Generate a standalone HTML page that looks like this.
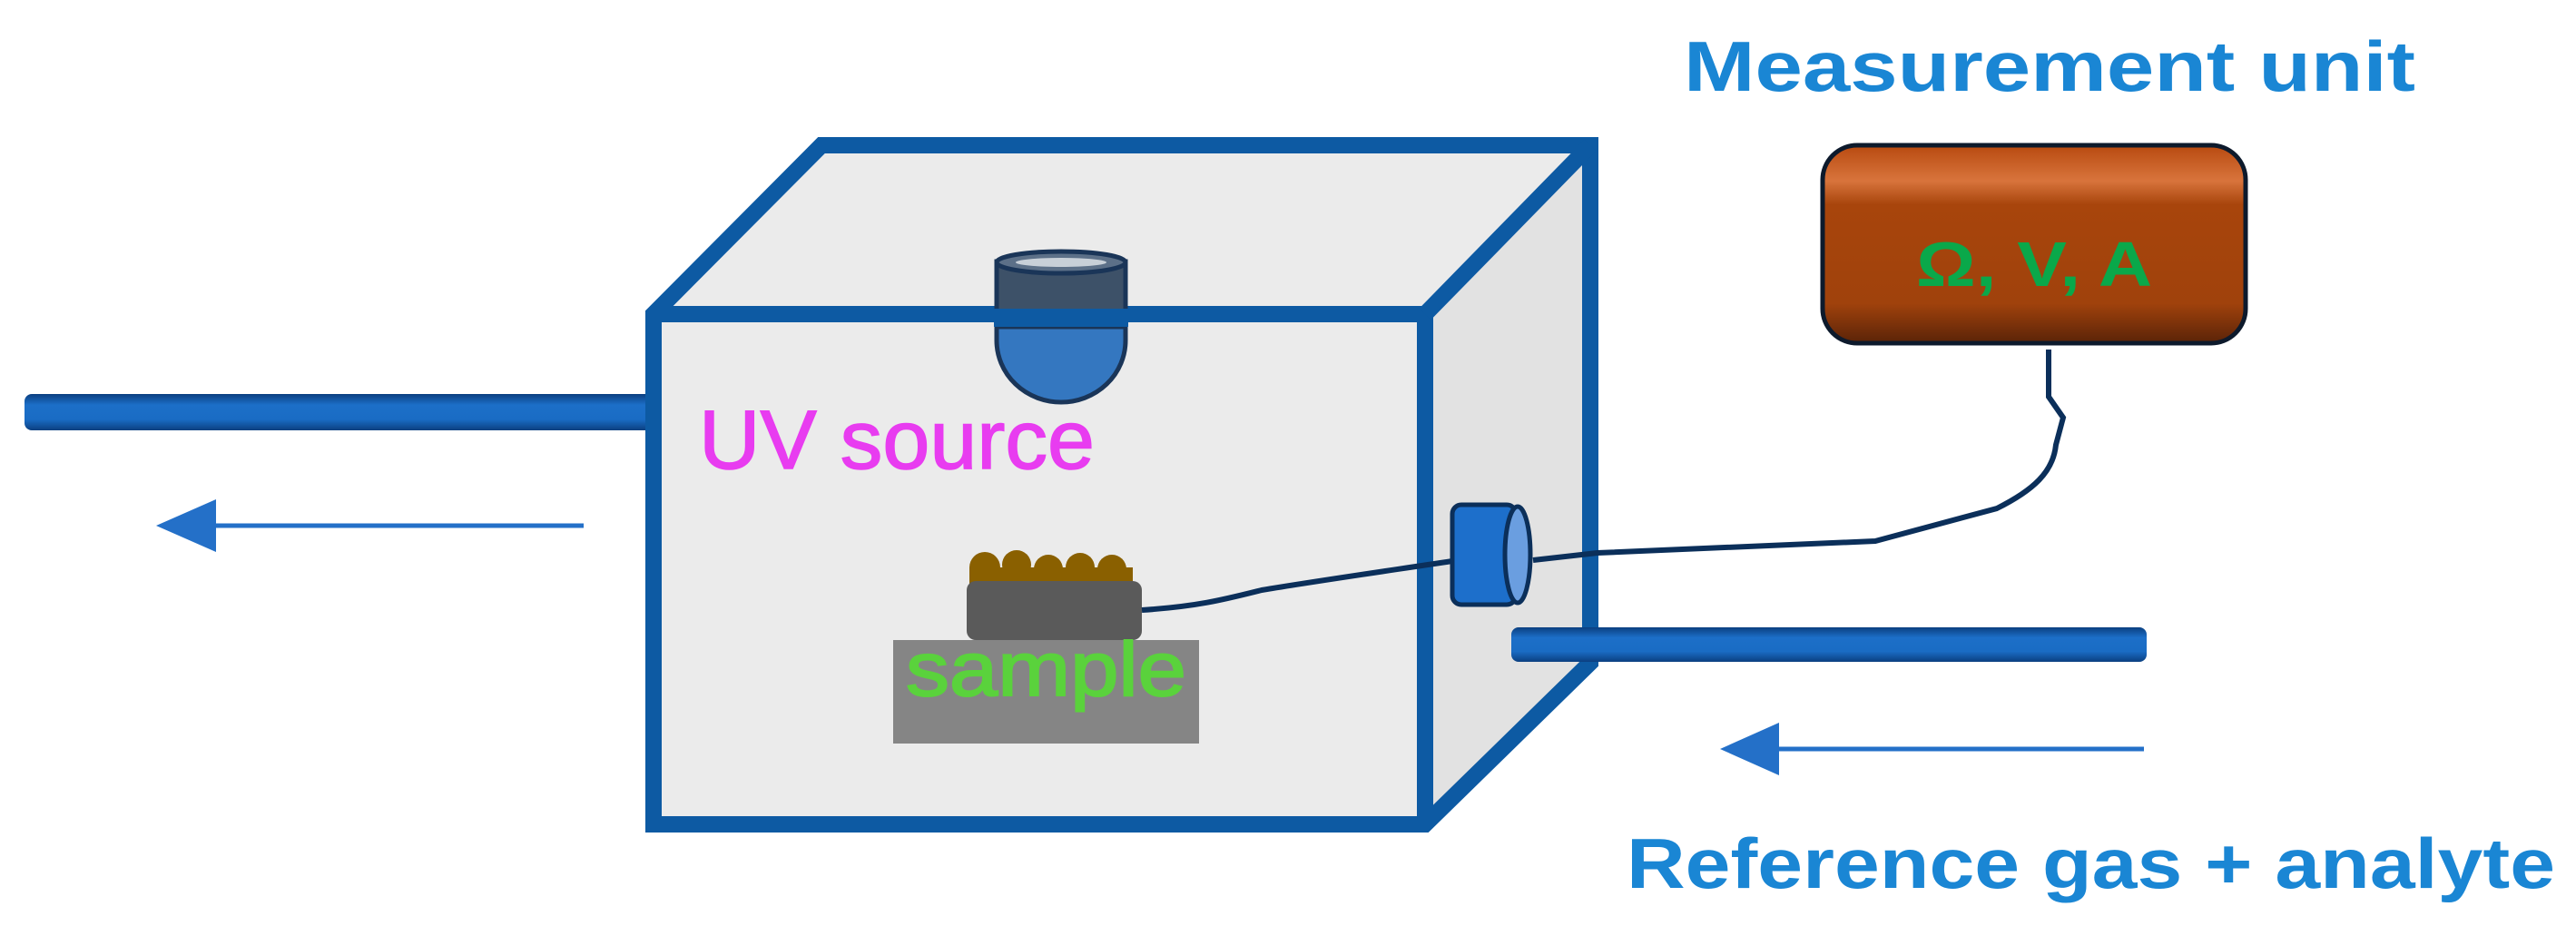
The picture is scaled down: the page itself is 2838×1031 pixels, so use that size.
<!DOCTYPE html>
<html><head><meta charset="utf-8"><style>
html,body{margin:0;padding:0;background:#fff;}
svg{display:block;}
</style></head><body>
<svg width="2838" height="1031" viewBox="0 0 2838 1031" xmlns="http://www.w3.org/2000/svg">
<defs>
<linearGradient id="box" x1="0" y1="0" x2="0" y2="1">
<stop offset="0" stop-color="#b84a10"/><stop offset="0.18" stop-color="#d8743c"/><stop offset="0.3" stop-color="#a8450c"/><stop offset="0.8" stop-color="#a0420c"/><stop offset="1" stop-color="#5a2308"/>
</linearGradient>
<linearGradient id="tube" x1="0" y1="0" x2="0" y2="1">
<stop offset="0" stop-color="#0b3f80"/><stop offset="0.3" stop-color="#1c6fc8"/><stop offset="0.7" stop-color="#1a6cc4"/><stop offset="1" stop-color="#0b3f80"/>
</linearGradient>
</defs>
<rect x="27" y="434" width="700" height="40" rx="8" fill="url(#tube)"/>
<polygon points="720,346 905,160 1752,160 1752,730 1570,908 720,908" fill="#ebebeb"/>
<polygon points="1570,346 1752,160 1752,730 1570,908" fill="#e2e2e2"/>
<g fill="none" stroke="#0d5aa3" stroke-width="18" stroke-linejoin="miter">
<polygon points="720,346 905,160 1752,160 1752,730 1570,908 720,908"/>
<polyline points="720,346 1570,346 1570,908"/>
<line x1="1570" y1="346" x2="1752" y2="160"/>
</g>
<!-- UV lamp -->
<path d="M1098,360 L1098,375 A71,68 0 0 0 1240,375 L1240,360 Z" fill="#3477c0" stroke="#1a3558" stroke-width="5"/>
<rect x="1098" y="288" width="142" height="60" fill="#3d5168" stroke="#1a3558" stroke-width="5"/>
<ellipse cx="1169" cy="289" rx="71" ry="12" fill="#5c7088" stroke="#1a3558" stroke-width="5"/>
<ellipse cx="1169" cy="289" rx="50" ry="5" fill="#c8d0d8"/>
<rect x="1095" y="340" width="148" height="20" fill="#0d5aa3"/>
<text x="770" y="516" font-family="Liberation Sans, sans-serif" font-size="92" fill="#e83cf0" stroke="#e83cf0" stroke-width="1.5" textLength="436" lengthAdjust="spacingAndGlyphs">UV source</text>
<rect x="984" y="705" width="337" height="114" fill="#858585"/>
<g fill="#8a6000">
<circle cx="1085" cy="625" r="17"/><circle cx="1120" cy="622" r="16"/><circle cx="1155" cy="627" r="16"/><circle cx="1190" cy="625" r="16"/><circle cx="1225" cy="627" r="16"/>
<rect x="1068" y="625" width="180" height="18"/>
</g>
<rect x="1065" y="640" width="193" height="65" rx="10" fill="#5a5a5a"/>
<text x="998" y="766" font-family="Liberation Sans, sans-serif" font-size="84" fill="#5ad23c" stroke="#5ad23c" stroke-width="2" textLength="309" lengthAdjust="spacingAndGlyphs">sample</text>
<path d="M1258,672 C1320,668 1350,660 1390,650 C1450,640 1520,630 1600,618" fill="none" stroke="#0b2f5a" stroke-width="6"/>
<path d="M1689,617 L1760,609 L2066,596 L2200,560 C2240,540 2262,520 2265,490 L2273,460 L2257,437 L2257,385" fill="none" stroke="#0b2f5a" stroke-width="6"/>
<rect x="1600" y="556" width="70" height="110" rx="10" fill="#1d6fcb" stroke="#0b2f5a" stroke-width="5"/>
<ellipse cx="1672" cy="611" rx="14" ry="53" fill="#6a9ee0" stroke="#0b2f5a" stroke-width="5"/>
<rect x="1665" y="691" width="700" height="38" rx="8" fill="url(#tube)"/>
<line x1="232" y1="579" x2="643" y2="579" stroke="#2470c8" stroke-width="5"/>
<polygon points="172,579 238,550 238,608" fill="#2470c8"/>
<line x1="1955" y1="825" x2="2362" y2="825" stroke="#2470c8" stroke-width="5"/>
<polygon points="1895,825 1960,796 1960,854" fill="#2470c8"/>
<rect x="2008" y="160" width="466" height="218" rx="38" fill="url(#box)" stroke="#0d1a2c" stroke-width="5"/>
<text x="2241" y="315" text-anchor="middle" font-family="Liberation Sans, sans-serif" font-weight="bold" font-size="70" fill="#0aa84a" textLength="260" lengthAdjust="spacingAndGlyphs">Ω, V, A</text>
<text x="1855" y="100" font-family="Liberation Sans, sans-serif" font-weight="bold" font-size="78" fill="#1a86d4" textLength="806" lengthAdjust="spacingAndGlyphs">Measurement unit</text>
<text x="1792" y="978" font-family="Liberation Sans, sans-serif" font-weight="bold" font-size="78" fill="#1a86d4" textLength="1023" lengthAdjust="spacingAndGlyphs">Reference gas + analyte</text>
</svg>
</body></html>
